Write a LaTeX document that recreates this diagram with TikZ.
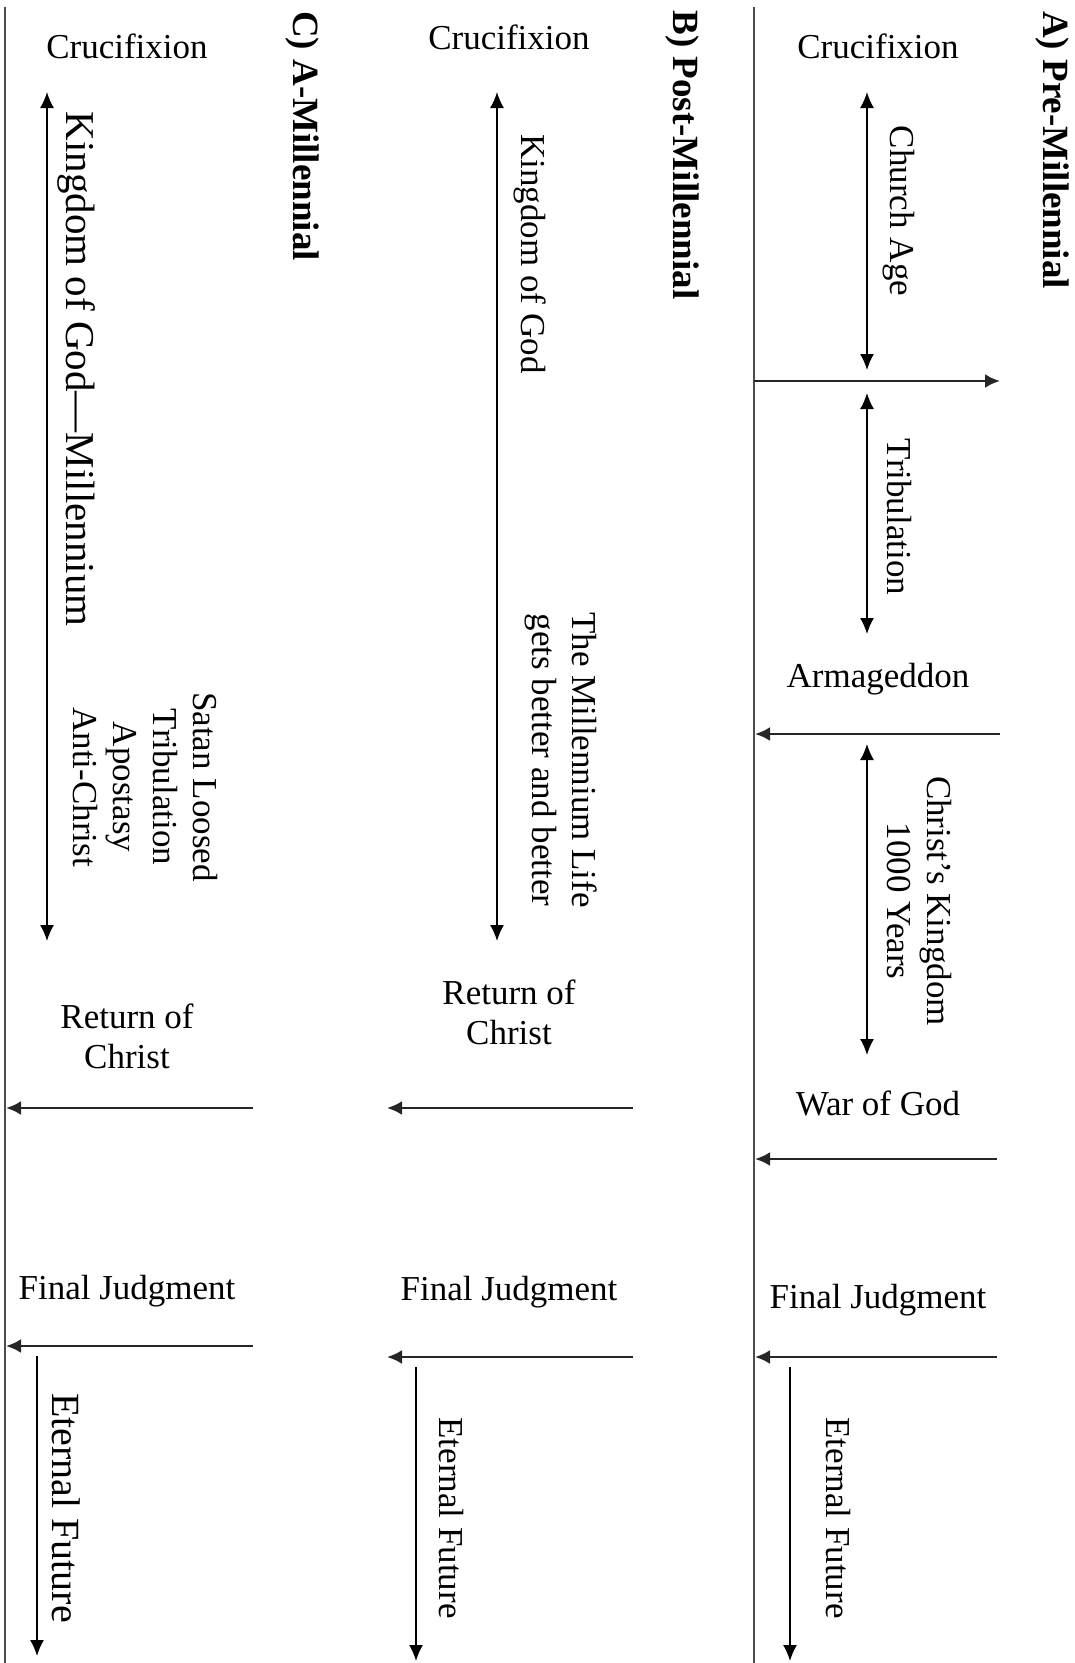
\documentclass[tikz,border=0pt]{standalone}
\usepackage{fontspec}
\setmainfont{Liberation Serif}
\usetikzlibrary{arrows.meta}
\begin{document}
\begin{tikzpicture}[x=1pt,y=-1pt,
  txt/.style={font=\fontsize{35}{40}\selectfont, align=center, inner sep=0pt},
  vtxt/.style={txt, rotate=-90},
  bigv/.style={vtxt, font=\fontsize{40}{44}\selectfont},
  headtxt/.style={font=\fontsize{37}{42}\selectfont\bfseries, rotate=-90, inner sep=0pt},
  frame/.style={line width=1.3pt, draw=black!70},
  span/.style={line width=1.6pt, {Latex[length=16pt,width=14pt]}-{Latex[length=16pt,width=14pt]}},
  evt/.style={line width=2.6pt, draw=black!85, -{Latex[length=15pt,width=14pt]}},
  fut/.style={line width=1.6pt, -{Latex[length=16pt,width=14pt]}}]
\useasboundingbox (0,0) rectangle (1075,1663);
% frame lines
\coordinate (L0) at (5,7); \coordinate (L1) at (5,1663);
\coordinate (M0) at (754,7); \coordinate (M1) at (754,1663);
\draw[frame] (L0) -- (L1);
\draw[frame] (M0) -- (M1);

% ---------- A) Pre-Millennial ----------
\node[headtxt] (hA) at (1052,150) {A) Pre-Millennial};
\node[txt] (aCruc) at (878,46) {Crucifixion};
\coordinate (a1t) at (867,92); \coordinate (a1b) at (867,370);
\draw[span] (a1t) -- (a1b);
\node[vtxt] (aChurch) at (899,211) {Church Age};
\coordinate (aR0) at (754,381); \coordinate (aR1) at (1000,381);
\draw[evt] (aR0) -- (aR1);
\coordinate (a2t) at (867,393); \coordinate (a2b) at (867,634);
\draw[span] (a2t) -- (a2b);
\node[vtxt] (aTrib) at (899,517) {Tribulation};
\node[txt] (aArm) at (878,679) {Armageddon};
\coordinate (aA0) at (1000,734); \coordinate (aA1) at (755,734);
\draw[evt] (aA0) -- (aA1);
\coordinate (a3t) at (867,744); \coordinate (a3b) at (867,1055);
\draw[span] (a3t) -- (a3b);
\node[vtxt] (aKing) at (919,901) {Christ’s Kingdom\\1000 Years};
\node[txt] (aWar) at (878,1103) {War of God};
\coordinate (aW0) at (997,1159); \coordinate (aW1) at (755,1159);
\draw[evt] (aW0) -- (aW1);
\node[txt] (aFinal) at (878,1300) {Final Judgment};
\coordinate (aF0) at (997,1357); \coordinate (aF1) at (755,1357);
\draw[evt] (aF0) -- (aF1);
\coordinate (aE0) at (790,1367); \coordinate (aE1) at (790,1661);
\draw[fut] (aE0) -- (aE1);
\node[vtxt] (aEtern) at (838,1518) {Eternal Future};

% ---------- B) Post-Millennial ----------
\node[headtxt] (hB) at (682,155) {B) Post-Millennial};
\node[txt] (bCruc) at (509,37) {Crucifixion};
\coordinate (b1t) at (497,92); \coordinate (b1b) at (497,941);
\draw[span] (b1t) -- (b1b);
\node[vtxt] (bKing) at (530,254) {Kingdom of God};
\node[vtxt] (bMill) at (561,760) {The Millennium Life\\gets better and better};
\node[txt] (bRet) at (509,1012) {Return of\\Christ};
\coordinate (bR0) at (633,1108); \coordinate (bR1) at (387,1108);
\draw[evt] (bR0) -- (bR1);
\node[txt] (bFinal) at (509,1292) {Final Judgment};
\coordinate (bF0) at (633,1357); \coordinate (bF1) at (387,1357);
\draw[evt] (bF0) -- (bF1);
\coordinate (bE0) at (416,1367); \coordinate (bE1) at (416,1661);
\draw[fut] (bE0) -- (bE1);
\node[vtxt] (bEtern) at (451,1518) {Eternal Future};

% ---------- C) A-Millennial ----------
\node[headtxt] (hC) at (302,136) {C) A-Millennial};
\node[txt] (cCruc) at (127,46) {Crucifixion};
\coordinate (c1t) at (47,92); \coordinate (c1b) at (47,941);
\draw[span] (c1t) -- (c1b);
\node[bigv, font=\fontsize{41}{45}\selectfont] (cKing) at (77,369) {Kingdom of God—Millennium};
\node[vtxt] (cSatan) at (145,787) {Satan Loosed\\Tribulation\\Apostasy\\Anti-Christ};
\node[txt] (cRet) at (127,1036) {Return of\\Christ};
\coordinate (cR0) at (253,1108); \coordinate (cR1) at (6,1108);
\draw[evt] (cR0) -- (cR1);
\node[txt] (cFinal) at (127,1291) {Final Judgment};
\coordinate (cF0) at (253,1346); \coordinate (cF1) at (6,1346);
\draw[evt] (cF0) -- (cF1);
\coordinate (cE0) at (37,1356); \coordinate (cE1) at (37,1656);
\draw[fut] (cE0) -- (cE1);
\node[bigv] (cEtern) at (66,1508) {Eternal Future};
\end{tikzpicture}
\end{document}
